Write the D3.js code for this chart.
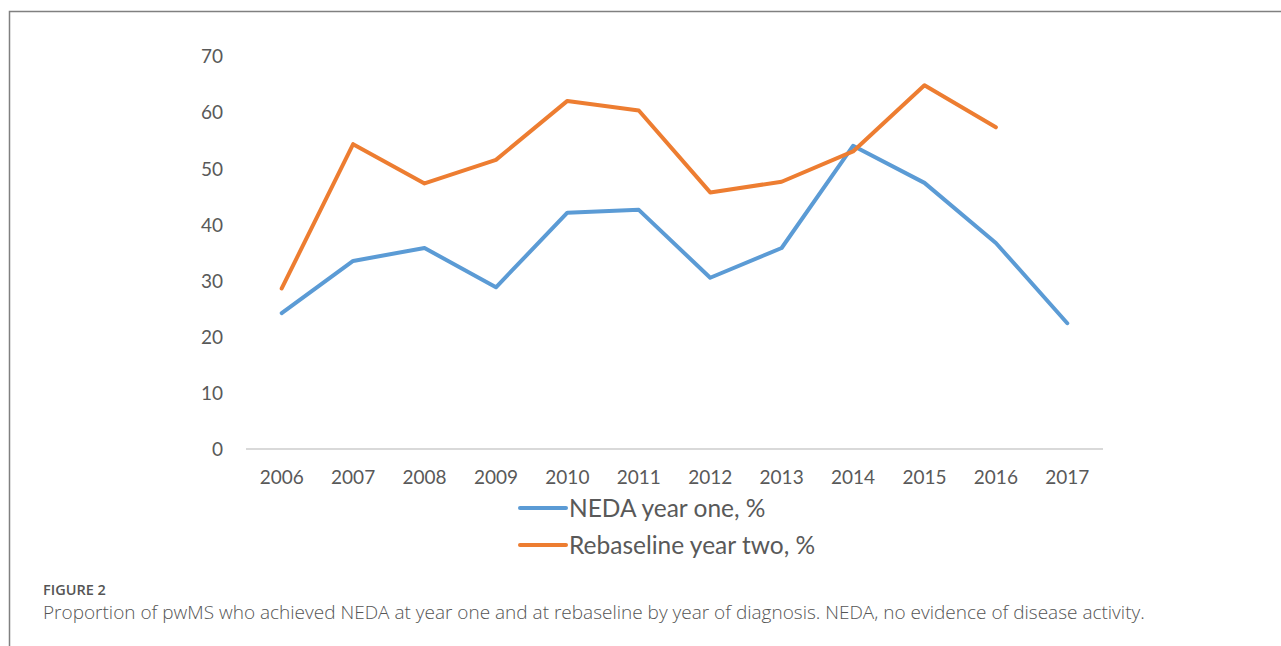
<!DOCTYPE html>
<html>
<head>
<meta charset="utf-8">
<script src="https://cdn.jsdelivr.net/npm/d3@7"></script>
<style>
  html, body { margin: 0; padding: 0; background: #fff; }
  svg { display: block; }
</style>
</head>
<body>
<svg id="chart" width="1281" height="646"></svg>
<script>
// Year of diagnosis
const years = ["2006","2007","2008","2009","2010","2011","2012","2013","2014","2015","2016","2017"];
// NEDA year one, %
const nedaYearOne = [24.2, 33.5, 35.8, 28.8, 42.1, 42.6, 30.5, 35.8, 54.0, 47.4, 36.7, 22.4];
// Rebaseline year two, % (no value for 2017)
const rebaselineYearTwo = [28.6, 54.3, 47.3, 51.5, 62.0, 60.3, 45.7, 47.6, 53.0, 64.8, 57.3, null];
const yTicks = [0, 10, 20, 30, 40, 50, 60, 70];
const seriesNames = ["NEDA year one, %", "Rebaseline year two, %"];
const seriesColors = ["#5B9BD5", "#ED7D31"];

const svg = d3.select("#chart");
const axisFont = "Lato, 'Open Sans', sans-serif";
const textGrey = "#595959";

// Panel frame (top and left edges)
svg.append("path")
  .attr("d", "M9.5,646 L9.5,11.5 L1281,11.5")
  .attr("fill", "none")
  .attr("stroke", "#808080")
  .attr("stroke-width", 1.5);

const x = d3.scaleBand().domain(years).range([246, 1103]);
const y = d3.scaleLinear().domain([0, 70]).range([449, 56]);

// Category baseline
svg.append("line")
  .attr("x1", x.range()[0]).attr("x2", x.range()[1])
  .attr("y1", y(0)).attr("y2", y(0))
  .attr("stroke", "#d9d9d9").attr("stroke-width", 2);

// Y axis labels
const yAxis = d3.axisLeft(y).tickValues(yTicks).tickSize(0).tickPadding(0);
const yg = svg.append("g").attr("transform", "translate(223,0)").call(yAxis);
yg.select(".domain").remove();
yg.selectAll("text")
  .attr("font-family", axisFont).attr("font-size", 19)
  .attr("fill", textGrey).attr("dy", "0.36em");

// X axis labels
const xAxis = d3.axisBottom(x).tickSize(0).tickPadding(0);
const xg = svg.append("g").attr("transform", `translate(0,${y(0)})`).call(xAxis);
xg.select(".domain").remove();
xg.selectAll("text")
  .attr("font-family", axisFont).attr("font-size", 19)
  .attr("fill", textGrey).attr("dy", 35).attr("y", 0);

// Lines
const line = d3.line()
  .defined(d => d.v !== null)
  .x(d => x(d.year) + x.bandwidth() / 2)
  .y(d => y(d.v));

[nedaYearOne, rebaselineYearTwo].forEach((vals, i) => {
  const pts = years.map((yr, j) => ({ year: yr, v: vals[j] }));
  svg.append("path")
    .datum(pts)
    .attr("d", line)
    .attr("fill", "none")
    .attr("stroke", seriesColors[i])
    .attr("stroke-width", 4)
    .attr("stroke-linejoin", "round")
    .attr("stroke-linecap", "round");
});

// Legend
const legendY = [508, 545];
seriesNames.forEach((name, i) => {
  svg.append("line")
    .attr("x1", 520).attr("x2", 566)
    .attr("y1", legendY[i]).attr("y2", legendY[i])
    .attr("stroke", seriesColors[i]).attr("stroke-width", 4)
    .attr("stroke-linecap", "round");
  svg.append("text")
    .attr("x", 569).attr("y", legendY[i])
    .attr("dy", "0.36em")
    .attr("font-family", axisFont).attr("font-size", 24.5)
    .attr("fill", textGrey)
    .text(name);
});

// Caption
svg.append("text")
  .attr("x", 43).attr("y", 595)
  .attr("font-family", "'Open Sans', sans-serif").attr("font-size", 14.5)
  .attr("font-weight", 600)
  .attr("fill", "#555")
  .text("FIGURE 2");
svg.append("text")
  .attr("x", 43).attr("y", 619)
  .attr("font-family", "'Open Sans', sans-serif").attr("font-size", 19)
  .attr("font-weight", 300)
  .attr("fill", "#555")
  .text("Proportion of pwMS who achieved NEDA at year one and at rebaseline by year of diagnosis. NEDA, no evidence of disease activity.");
</script>
</body>
</html>
